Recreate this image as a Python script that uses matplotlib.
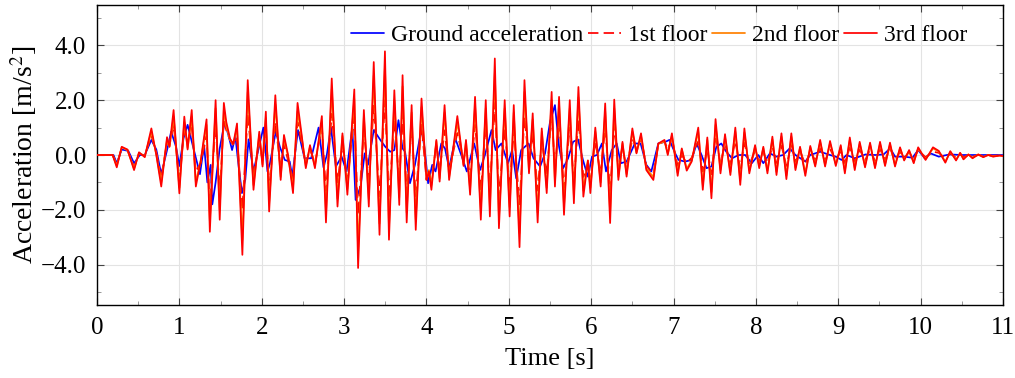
import matplotlib
matplotlib.use("Agg")
import matplotlib.pyplot as plt
from matplotlib.ticker import MultipleLocator, FuncFormatter

# ---------------- data ----------------
# time instants of the floor responses (s)
t_floor = [0, 0.19, 0.24, 0.30, 0.37, 0.45, 0.51, 0.58, 0.66, 0.72,
           0.78, 0.85, 0.88, 0.93, 1.00, 1.06, 1.10, 1.15, 1.20, 1.26,
           1.33, 1.37, 1.44, 1.49, 1.54, 1.57, 1.615, 1.655, 1.70, 1.765,
           1.83, 1.90, 1.97, 2.01, 2.05, 2.09, 2.165, 2.23, 2.27, 2.32,
           2.38, 2.435, 2.48, 2.535, 2.586, 2.646, 2.73, 2.78, 2.85, 2.92,
           2.98, 3.04, 3.124, 3.17, 3.24, 3.30, 3.36, 3.43, 3.496, 3.545,
           3.61, 3.67, 3.71, 3.76, 3.82, 3.87, 3.94, 4.00, 4.03, 4.06,
           4.12, 4.16, 4.22, 4.275, 4.375, 4.45, 4.48, 4.53, 4.59, 4.66,
           4.72, 4.77, 4.83, 4.88, 4.95, 5.01, 5.06, 5.13, 5.19, 5.245,
           5.29, 5.35, 5.40, 5.46, 5.52, 5.56, 5.61, 5.67, 5.74, 5.79,
           5.845, 5.905, 5.96, 5.99, 6.05, 6.115, 6.17, 6.23, 6.28, 6.33,
           6.38, 6.43, 6.50, 6.55, 6.605, 6.67, 6.755, 6.815, 6.89, 6.93,
           6.98, 7.05, 7.10, 7.16, 7.22, 7.30, 7.355, 7.41, 7.46, 7.51,
           7.57, 7.625, 7.69, 7.75, 7.81, 7.86, 7.92, 7.99, 8.04, 8.09,
           8.14, 8.20, 8.25, 8.31, 8.37, 8.43, 8.48, 8.536, 8.60, 8.66,
           8.72, 8.78, 8.84, 8.90, 8.97, 9.03, 9.08, 9.14, 9.20, 9.26,
           9.325, 9.386, 9.446, 9.507, 9.568, 9.628, 9.689, 9.75, 9.80, 9.86,
           9.916, 9.97, 10.06, 10.15, 10.22, 10.30, 10.36, 10.43, 10.48, 10.52,
           10.58, 10.63, 10.70, 10.76, 10.82, 10.88, 10.96, 11.0]

acc_3rd = [0, 0, -0.45, 0.3, 0.2, -0.55, 0.1, -0.08, 0.97, 0.0,
           -1.15, 0.65, 0.3, 1.64, -1.4, 1.4, 0.2, 1.64, -1.15, -0.2,
           1.3, -2.8, 2.0, -2.36, 1.9, 1.2, 0.6, 0.4, 1.15, -3.64,
           2.73, -1.27, 0.85, -0.42, 1.58, -2.06, 2.18, -0.91, 0.73, 0.0,
           -1.39, 1.9, 0.85, -0.48, 0.36, -0.48, 1.42, -2.46, 2.79, -1.88,
           0.79, -1.45, 2.39, -4.12, 1.64, -1.88, 3.39, -2.91, 3.78, -3.09,
           2.36, -1.82, 2.91, -2.46, 1.82, -2.73, 2.06, -0.91, -0.6, -1.27,
           0.55, -0.97, 1.82, -0.91, 1.42, -0.4, 0.55, -1.45, 2.12, -2.36,
           2.0, -2.24, 3.52, -2.67, 2.0, -2.24, 1.82, -3.36, 2.73, -0.67,
           1.52, -2.46, 0.97, -1.39, 2.30, -1.15, 2.12, -2.18, 2.0, -1.76,
           2.48, -1.52, -0.2, -1.39, 1.0, -1.15, 1.88, -2.48, 2.02, -0.91,
           0.48, -0.79, 0.97, 0.06, 0.79, -0.55, -0.91, 0.42, 0.55, 0.0,
           0.79, -0.76, 0.24, -0.57, -0.24, 1.0, -1.27, 0.64, -1.58, 1.31,
           -0.67, 0.76, -0.73, 1.0, -1.09, 0.97, -0.67, 0.36, -0.48, 0.3,
           -0.67, 0.67, -0.73, 0.79, -0.88, 0.79, -0.55, 0.3, -0.76, 0.33,
           -0.42, 0.55, -0.42, 0.51, -0.4, 0.36, -0.67, 0.64, -0.55, 0.48,
           -0.45, 0.45, -0.48, 0.48, -0.4, 0.45, -0.42, 0.28, -0.2, 0.18,
           -0.3, 0.28, -0.18, 0.28, 0.15, -0.28, 0.14, -0.2, 0.08, -0.16,
           0.02, -0.12, 0.02, -0.08, 0.0, -0.06, -0.02, -0.04]

acc_2nd = [0, 0, -0.4, 0.28, 0.18, -0.5, 0.08, -0.05, 0.85, 0.02,
           -1.0, 0.55, 0.3, 1.4, -1.2, 1.2, 0.25, 1.4, -1.0, -0.2,
           1.1, -2.4, 1.7, -2.0, 1.65, 1.05, 0.55, 0.4, 1.0, -3.1,
           2.3, -1.1, 0.75, -0.35, 1.35, -1.75, 1.85, -0.8, 0.6, -0.05,
           -1.2, 1.6, 0.75, -0.4, 0.3, -0.4, 1.2, -2.1, 2.4, -1.6,
           0.7, -1.25, 2.05, -3.5, 1.4, -1.6, 2.9, -2.5, 3.25, -2.65,
           2.0, -1.55, 2.5, -2.1, 1.55, -2.35, 1.75, -0.8, -0.55, -1.1,
           0.5, -0.85, 1.55, -0.8, 1.2, -0.35, 0.5, -1.25, 1.8, -2.0,
           1.7, -1.9, 3.0, -2.3, 1.7, -1.9, 1.55, -2.85, 2.3, -0.6,
           1.3, -2.1, 0.85, -1.2, 2.0, -1.0, 1.85, -1.85, 1.7, -1.5,
           2.1, -1.3, -0.2, -1.2, 0.85, -1.0, 1.6, -2.1, 1.7, -0.8,
           0.42, -0.7, 0.85, 0.08, 0.7, -0.5, -0.8, 0.4, 0.5, 0.05,
           0.7, -0.65, 0.2, -0.5, -0.2, 0.85, -1.1, 0.55, -1.35, 1.1,
           -0.55, 0.65, -0.62, 0.85, -0.92, 0.82, -0.57, 0.3, -0.4, 0.25,
           -0.57, 0.57, -0.62, 0.67, -0.75, 0.67, -0.47, 0.26, -0.65, 0.28,
           -0.36, 0.47, -0.36, 0.43, -0.34, 0.3, -0.57, 0.54, -0.47, 0.41,
           -0.38, 0.38, -0.41, 0.41, -0.34, 0.38, -0.36, 0.24, -0.17, 0.15,
           -0.26, 0.24, -0.15, 0.24, 0.13, -0.24, 0.12, -0.17, 0.07, -0.14,
           0.02, -0.1, 0.02, -0.07, 0.0, -0.05, -0.02, -0.03]

acc_1st = [0, 0, -0.35, 0.25, 0.18, -0.45, 0.05, -0.02, 0.7, 0.1,
           -0.85, 0.45, 0.35, 1.1, -0.9, 0.9, 0.5, 1.0, -0.6, -0.3,
           0.7, -1.8, 1.1, -1.4, 1.3, 0.9, 0.55, 0.35, 0.6, -2.0,
           1.5, -0.8, 0.5, -0.2, 1.0, -1.2, 1.2, -0.5, 0.4, -0.2,
           -0.9, 1.2, 0.5, -0.3, 0.2, -0.3, 1.0, -1.3, 1.5, -1.0,
           0.4, -0.9, 1.4, -2.2, 0.9, -1.0, 1.8, -1.5, 2.0, -1.6,
           1.3, -1.0, 1.5, -1.4, 1.0, -1.5, 1.1, -0.9, -0.6, -1.0,
           0.4, -0.6, 0.9, -0.6, 0.8, -0.2, 0.3, -0.8, 1.1, -1.3,
           1.1, -1.2, 1.9, -1.5, 1.0, -1.2, 0.9, -1.8, 1.4, -0.3,
           0.8, -1.3, 0.5, -0.7, 1.5, -0.5, 1.2, -1.2, 1.0, -1.0,
           1.3, -0.8, -0.3, -0.9, 0.5, -0.7, 1.0, -1.3, 1.1, -0.5,
           0.3, -0.5, 0.6, 0.2, 0.6, -0.4, -0.7, 0.4, 0.5, 0.2,
           0.6, -0.4, 0.0, -0.3, -0.1, 0.5, -0.6, 0.2, -0.7, 0.7,
           -0.3, 0.4, -0.35, 0.5, -0.5, 0.45, -0.35, 0.15, -0.25, 0.1,
           -0.3, 0.3, -0.3, 0.35, -0.4, 0.4, -0.25, 0.15, -0.35, 0.15,
           -0.2, 0.25, -0.2, 0.22, -0.2, 0.15, -0.3, 0.28, -0.25, 0.2,
           -0.2, 0.2, -0.22, 0.22, -0.18, 0.25, -0.2, 0.12, -0.1, 0.1,
           -0.15, 0.18, -0.08, 0.12, 0.08, -0.12, 0.06, -0.1, 0.04, -0.08,
           0.0, -0.06, 0.0, -0.04, 0.0, -0.03, -0.01, -0.02]

# ground acceleration record
t_ground = [0, 0.2, 0.24, 0.30, 0.38, 0.45, 0.52, 0.58, 0.66, 0.72,
            0.78, 0.82, 0.86, 0.90, 0.96, 1.00, 1.05, 1.10, 1.15, 1.20,
            1.25, 1.30, 1.34, 1.38, 1.40, 1.44, 1.49, 1.55, 1.60, 1.64,
            1.68, 1.72, 1.76, 1.80, 1.84, 1.90, 1.95, 2.02, 2.07, 2.10,
            2.17, 2.22, 2.28, 2.34, 2.37, 2.44, 2.52, 2.60, 2.69, 2.75,
            2.79, 2.84, 2.90, 2.97, 3.03, 3.10, 3.14, 3.20, 3.25, 3.29,
            3.36, 3.44, 3.50, 3.56, 3.61, 3.66, 3.71, 3.74, 3.80, 3.86,
            3.94, 3.98, 4.02, 4.07, 4.11, 4.18, 4.225, 4.275, 4.35, 4.43,
            4.49, 4.58, 4.65, 4.71, 4.79, 4.84, 4.91, 4.99, 5.04, 5.09,
            5.15, 5.24, 5.30, 5.38, 5.44, 5.50, 5.56, 5.61, 5.66, 5.72,
            5.78, 5.84, 5.90, 5.96, 6.01, 6.07, 6.13, 6.18, 6.25, 6.31,
            6.36, 6.43, 6.53, 6.60, 6.67, 6.73, 6.815, 6.90, 6.95, 7.02,
            7.06, 7.14, 7.22, 7.28, 7.34, 7.40, 7.46, 7.52, 7.58, 7.64,
            7.71, 7.79, 7.87, 7.95, 8.03, 8.09, 8.17, 8.25, 8.33, 8.41,
            8.48, 8.60, 8.66, 8.78, 8.90, 8.97, 9.04, 9.10, 9.20, 9.33,
            9.45, 9.55, 9.63, 9.69, 9.80, 9.90, 9.97, 10.05, 10.12, 10.22,
            10.35, 10.5, 11.0]

acc_ground = [0, 0, -0.3, 0.2, 0.15, -0.3, 0.0, 0.0, 0.55, 0.2,
              -0.7, -0.2, 0.3, 0.85, 0.3, -0.4, 0.6, 1.1, 0.5, -0.1,
              -0.7, 0.36, -1.0, -0.36, -1.8, -1.0, 0.24, 1.2, 0.67, 0.18,
              0.67, -0.42, -1.39, -0.91, 0.57, -0.6, 0.06, 1.0, -0.6, -0.3,
              0.85, 0.3, -0.18, -0.24, -0.79, 0.91, -0.12, -0.12, 1.0, -0.45,
              0.0, 1.0, -0.42, -0.06, -0.6, 1.0, -1.64, -1.15, 0.06, -0.36,
              0.91, 0.55, 0.3, 0.12, 0.18, 1.27, 0.24, 0.12, -1.03, -0.36,
              0.97, 0.18, -1.03, -0.36, -0.6, 0.42, 0.24, -0.48, 0.6, -0.06,
              -0.6, 0.42, -0.55, 0.0, 0.91, 0.18, 0.42, -0.3, 0.18, -0.85,
              0.18, 0.42, -0.12, -0.42, 0.06, 1.2, 1.82, 0.3, -0.48, -0.12,
              0.48, 0.57, -0.18, -0.79, -0.06, 0.0, 0.42, -0.6, 0.18, 0.42,
              -0.3, -0.24, 0.42, 0.42, -0.36, -0.6, 0.42, 0.48, 0.55, 0.06,
              -0.18, -0.24, -0.18, 0.42, 0.0, -0.48, -0.42, 0.3, 0.42, 0.12,
              -0.12, 0.0, 0.0, -0.3, 0.0, -0.3, 0.06, -0.06, 0.0, 0.24,
              0.0, -0.24, 0.0, 0.12, 0.0, -0.06, -0.18, 0.0, -0.12, 0.02,
              0.0, 0.02, 0.24, -0.06, -0.06, -0.1, 0.18, -0.12, 0.06, -0.06,
              0.02, 0.0, 0.0]

series_labels = ["Ground acceleration", "1st floor", "2nd floor", "3rd floor"]
x_ticks = [0, 1, 2, 3, 4, 5, 6, 7, 8, 9, 10, 11]
y_ticks = [-4.0, -2.0, 0.0, 2.0, 4.0]

# ---------------- figure ----------------
plt.rcParams["font.family"] = ["Liberation Serif", "DejaVu Serif"]
plt.rcParams["mathtext.fontset"] = "stix"

fig = plt.figure(figsize=(10.15, 3.78), dpi=100)
ax = fig.add_axes([97 / 1015, 1 - 305 / 378, (1003 - 97) / 1015, 300 / 378])

lw = 1.25
common = dict(lw=lw, solid_joinstyle="round", solid_capstyle="round", zorder=3)
ax.plot(t_ground, acc_ground, color="#0000ff", label=series_labels[0], **common)
ax.plot(t_floor, acc_1st, color="#ff0000", ls=(0, (6, 3)), label=series_labels[1], **common)
ax.plot(t_floor, acc_2nd, color="#ff8000", label=series_labels[2], **common)
ax.plot(t_floor, acc_3rd, color="#ff0000", label=series_labels[3], **common)

ax.set_xlim(0, 11)
ax.set_ylim(-5.47, 5.47)
ax.set_xticks(x_ticks)
ax.set_yticks(y_ticks)
ax.yaxis.set_major_formatter(FuncFormatter(lambda v, p: f"{v:.1f}".replace("-", "\u2212")))
ax.xaxis.set_minor_locator(MultipleLocator(0.5))
ax.yaxis.set_minor_locator(MultipleLocator(1.0))
ax.tick_params(which="both", direction="in", top=True, right=True,
               labelsize=18, color="#444444")
ax.tick_params(which="major", length=5, width=0.8)
ax.tick_params(which="minor", length=3, width=0.6, color="#888888")
ax.tick_params(axis="x", which="major", pad=9)
ax.tick_params(axis="y", which="major", pad=8)
ax.grid(True, which="major", color="#e3e3e3", lw=0.8, zorder=0)
ax.set_axisbelow(True)
for s in ax.spines.values():
    s.set_linewidth(1.0)
    s.set_color("black")

ax.set_xlabel("Time [s]", fontsize=19, labelpad=6)
ax.set_ylabel("Acceleration [m/s$^2$]", fontsize=20, labelpad=1)

leg = ax.legend(loc="upper left", bbox_to_anchor=(0.262, 0.99), ncol=4,
                frameon=False, fontsize=17, handlelength=1.4,
                handletextpad=0.3, columnspacing=0.2, borderaxespad=0.3)

fig.savefig("out.png", dpi=100)
